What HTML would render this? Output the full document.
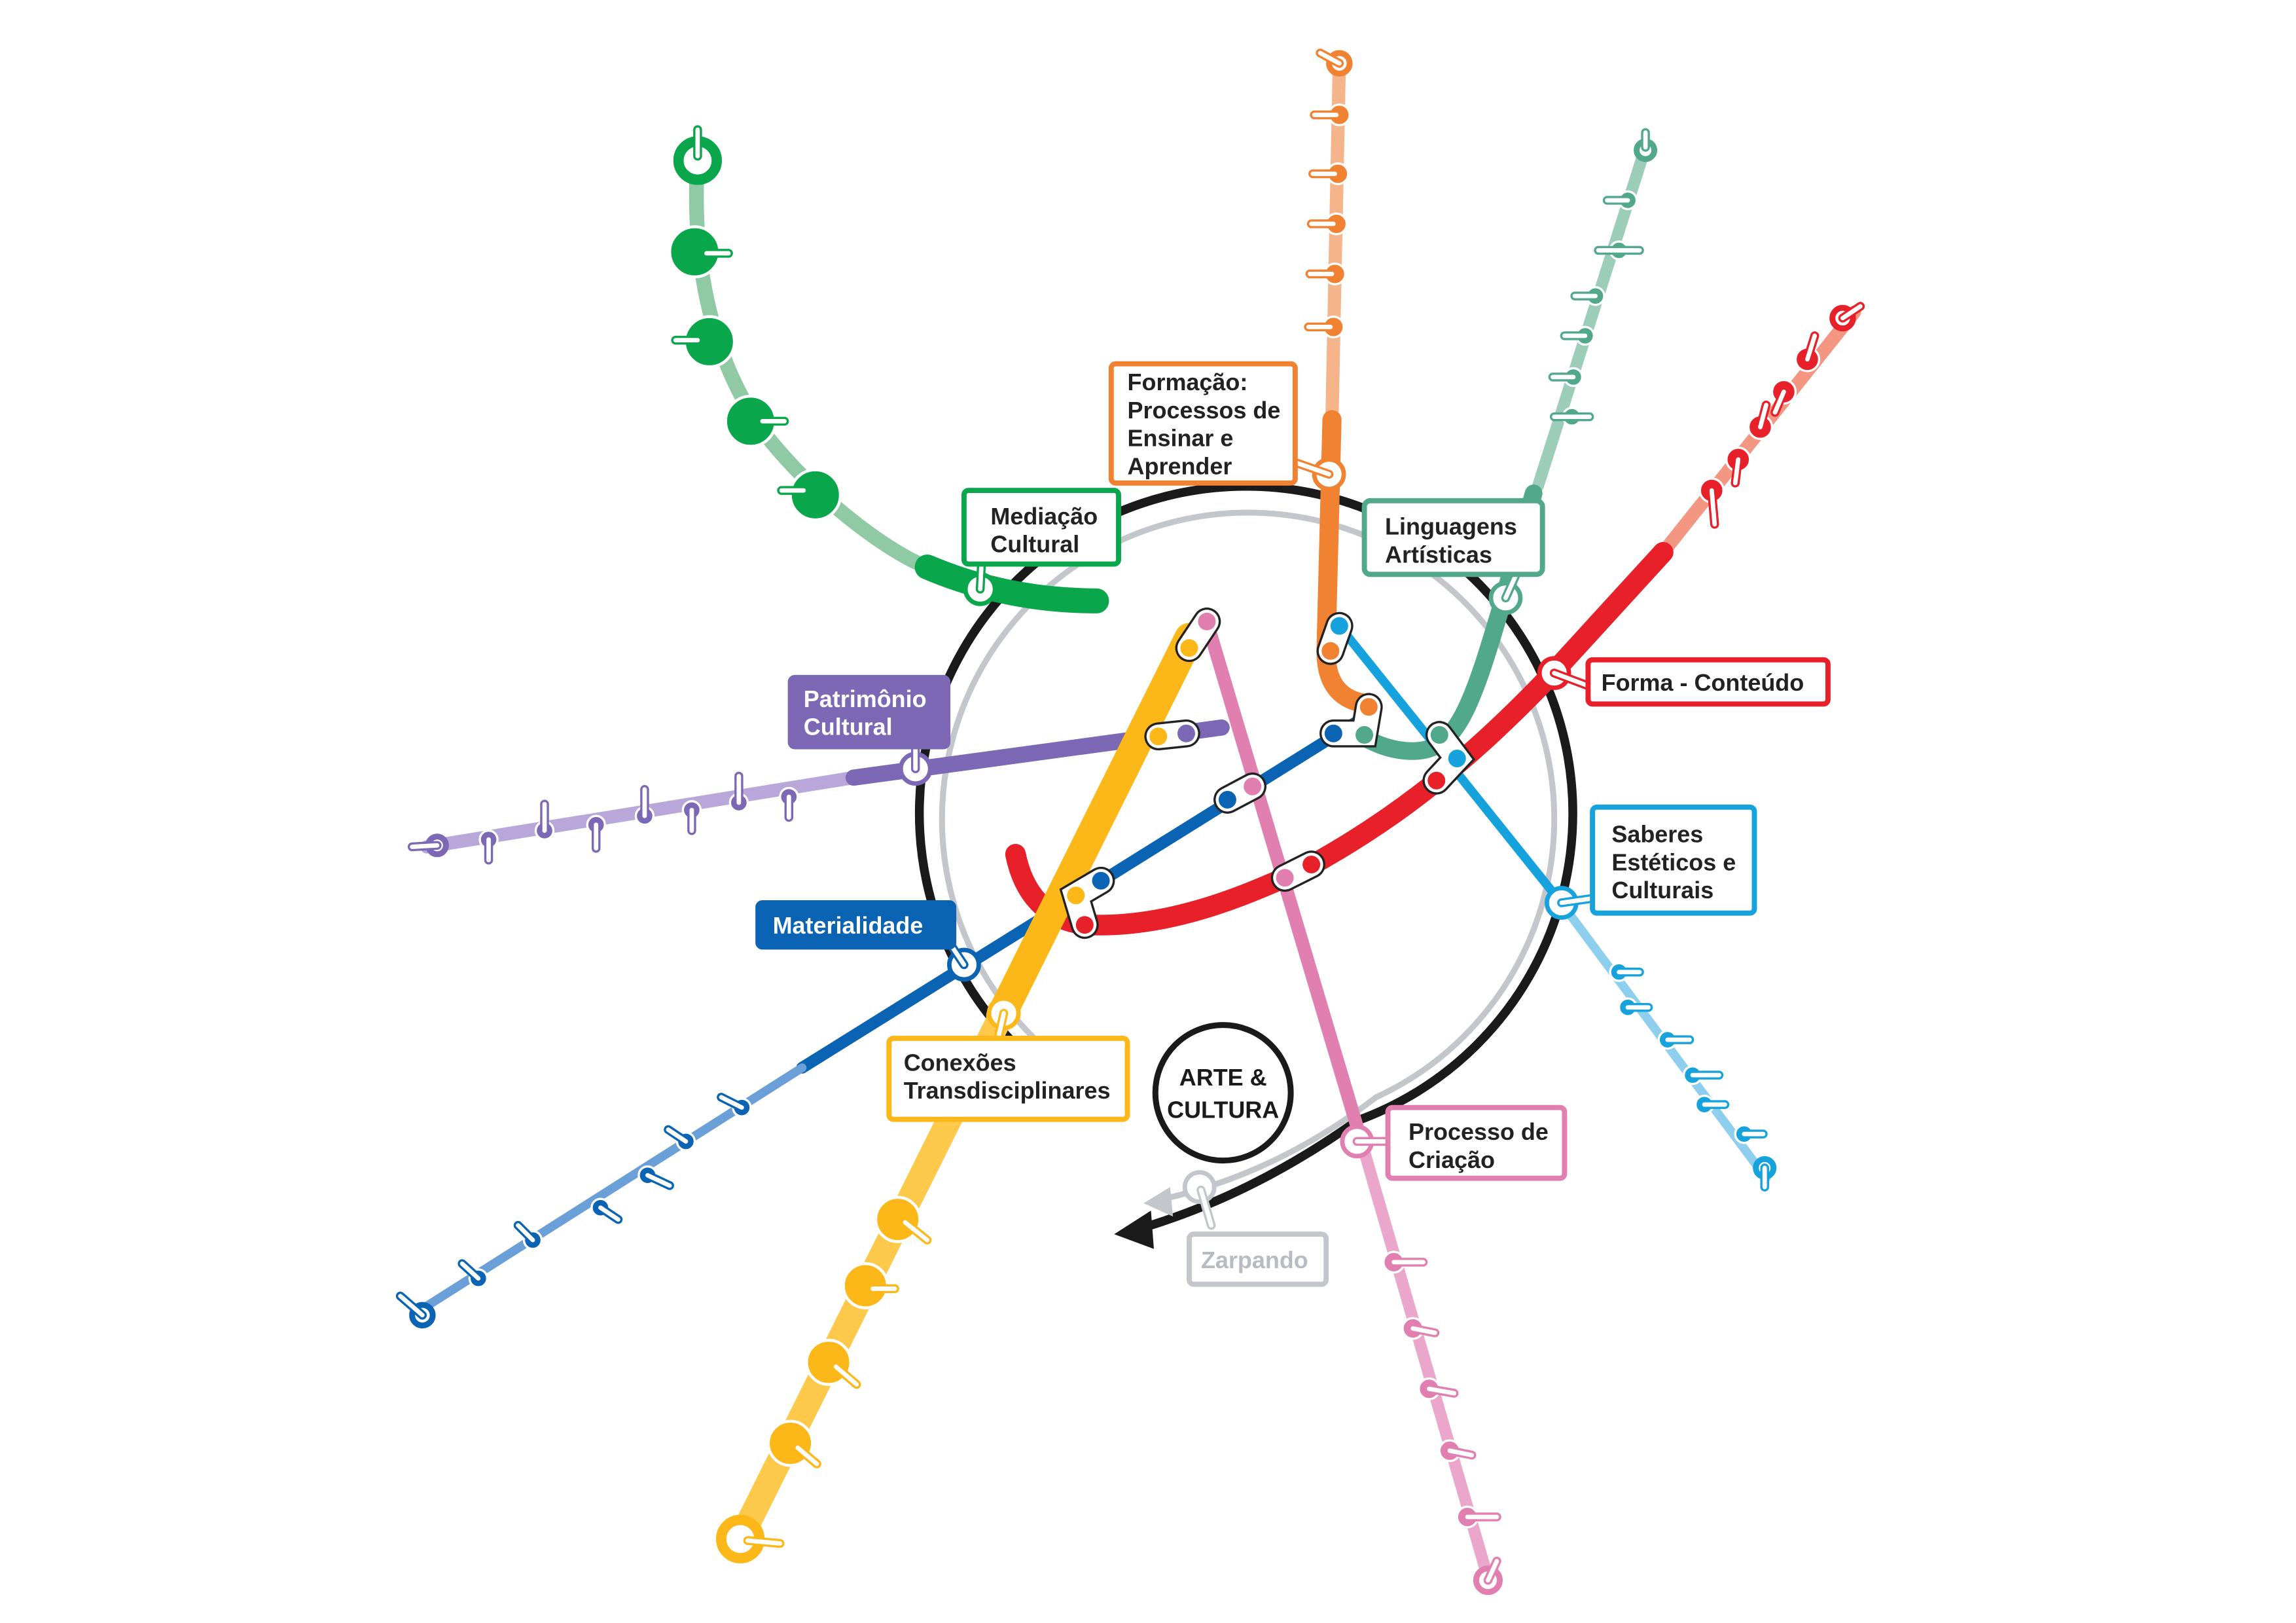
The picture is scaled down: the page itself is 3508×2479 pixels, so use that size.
<!DOCTYPE html>
<html><head><meta charset="utf-8"><style>
html,body{margin:0;padding:0;background:#fff;}
svg{display:block;}
text{font-family:"Liberation Sans",sans-serif;font-weight:bold;font-size:16px;}
</style></head><body>
<svg width="3508" height="2479" viewBox="0 0 1560 1102" preserveAspectRatio="none" xmlns="http://www.w3.org/2000/svg">
<rect width="1560" height="1102" fill="#fff"/>
<g fill="none" stroke-linecap="round">
<!-- rings -->
<path d="M 752,753 A 222 222 0 1 1 922,761 Q 850,812 775,834" stroke="#1a1a1a" stroke-width="6"/>
<path d="M 742,735 A 208 208 0 1 1 935,745 Q 870,795 795,813" stroke="#c3c6cb" stroke-width="4"/>
</g>
<polygon points="757,838 782,822 784,848" fill="#1a1a1a"/>
<polygon points="777,817 795,806 797,826" fill="#c3c6cb"/>
<circle cx="815" cy="806" r="10" fill="#fff" stroke="#c3c6cb" stroke-width="3"/>
<line x1="816" y1="808" x2="823" y2="832" stroke="#c3c6cb" stroke-width="6" stroke-linecap="round"/>
<line x1="816" y1="808" x2="823" y2="832" stroke="#fff" stroke-width="3" stroke-linecap="round"/>

<g fill="none" stroke-linecap="round" stroke-linejoin="round">
<!-- green -->
<path d="M474,108 C470,170 480,240 520,295 C560,345 610,378 630,385" stroke="#8fcaa4" stroke-width="10"/>
<path d="M630,385 C670,402 710,408 745,408" stroke="#0aa64c" stroke-width="17"/>
<!-- orange -->
<path d="M910,42 L905,285" stroke="#f6b48b" stroke-width="9"/>
<path d="M905,285 L901,440 Q900,475 930,478" stroke="#f08232" stroke-width="13"/>
<!-- teal -->
<path d="M1118,100 L1045,330" stroke="#9ccdb9" stroke-width="8"/>
<path d="M1042,335 L1022,405 C1000,480 990,510 960,510 C945,510 935,505 925,500" stroke="#52a88b" stroke-width="12"/>
<!-- light blue -->
<path d="M910,425 L1060,612" stroke="#16a2dc" stroke-width="6"/>
<path d="M1060,612 L1200,800" stroke="#8ecfee" stroke-width="6"/>
<!-- blue -->
<path d="M545,725 L930,485" stroke="#0b63b3" stroke-width="8"/>
<path d="M285,890 L545,725" stroke="#6a9fd8" stroke-width="6"/>
<!-- purple -->
<path d="M290,575 L580,528" stroke="#b8a7d8" stroke-width="9"/>
<path d="M580,528 L830,494" stroke="#7c68b4" stroke-width="11"/>
<!-- pink -->
<path d="M820,422 L925,775" stroke="#e07fb0" stroke-width="9"/>
<path d="M925,775 L1012,1075" stroke="#eba7cb" stroke-width="8"/>
<!-- red -->
<path d="M1260,212 L1130,375" stroke="#f49782" stroke-width="9"/>
<path d="M1130,375 L1055,457 C1000,515 950,555 890,588 C840,612 790,630 740,628 C710,626 695,605 690,580" stroke="#e8202a" stroke-width="14"/>
<!-- yellow -->
<path d="M808,433 L680,690" stroke="#fbb818" stroke-width="20"/>
<path d="M680,690 L503,1045" stroke="#fcc94a" stroke-width="17"/>
</g>

<!-- green stations -->
<g>
<circle cx="474" cy="109" r="13" fill="#fff" stroke="#0aa64c" stroke-width="7"/>
<line x1="474" y1="88" x2="474" y2="106" stroke="#0aa64c" stroke-width="6" stroke-linecap="round"/><line x1="474" y1="88" x2="474" y2="106" stroke="#fff" stroke-width="3" stroke-linecap="round"/>
<circle cx="472" cy="171" r="17" fill="#0aa64c" stroke="#fff" stroke-width="2"/>
<line x1="480" y1="172" x2="495" y2="172" stroke="#0aa64c" stroke-width="6" stroke-linecap="round"/><line x1="480" y1="172" x2="495" y2="172" stroke="#fff" stroke-width="3" stroke-linecap="round"/>
<circle cx="482" cy="232" r="17" fill="#0aa64c" stroke="#fff" stroke-width="2"/>
<line x1="459" y1="231" x2="474" y2="231" stroke="#0aa64c" stroke-width="6" stroke-linecap="round"/><line x1="459" y1="231" x2="474" y2="231" stroke="#fff" stroke-width="3" stroke-linecap="round"/>
<circle cx="510" cy="286" r="17" fill="#0aa64c" stroke="#fff" stroke-width="2"/>
<line x1="518" y1="286" x2="533" y2="286" stroke="#0aa64c" stroke-width="6" stroke-linecap="round"/><line x1="518" y1="286" x2="533" y2="286" stroke="#fff" stroke-width="3" stroke-linecap="round"/>
<circle cx="554" cy="336" r="17" fill="#0aa64c" stroke="#fff" stroke-width="2"/>
<line x1="531" y1="333" x2="546" y2="333" stroke="#0aa64c" stroke-width="6" stroke-linecap="round"/><line x1="531" y1="333" x2="546" y2="333" stroke="#fff" stroke-width="3" stroke-linecap="round"/>
</g>

<!-- small stations: generic -->
<g stroke-linecap="round">
<!-- orange -->
<g stroke="#f08232">
<circle cx="910" cy="43" r="7" fill="#fff" stroke-width="4"/>
<circle cx="910" cy="78" r="7" fill="#f08232" stroke="#fff" stroke-width="1.5"/>
<circle cx="909" cy="118" r="7" fill="#f08232" stroke="#fff" stroke-width="1.5"/>
<circle cx="908" cy="152" r="7" fill="#f08232" stroke="#fff" stroke-width="1.5"/>
<circle cx="907" cy="186" r="7" fill="#f08232" stroke="#fff" stroke-width="1.5"/>
<circle cx="906" cy="222" r="7" fill="#f08232" stroke="#fff" stroke-width="1.5"/>
<path d="M897,36 L910,43 M893,78 L908,78 M892,118 L907,118 M891,152 L906,152 M890,186 L905,186 M889,222 L904,222" stroke-width="6"/>
<path d="M897,36 L910,43 M893,78 L908,78 M892,118 L907,118 M891,152 L906,152 M890,186 L905,186 M889,222 L904,222" stroke="#fff" stroke-width="3"/>
</g>
<!-- teal -->
<g stroke="#52a88b">
<circle cx="1118" cy="102" r="6" fill="#fff" stroke-width="4"/>
<circle cx="1106" cy="136" r="6" fill="#52a88b" stroke="#fff" stroke-width="1.5"/>
<circle cx="1100" cy="170" r="6" fill="#52a88b" stroke="#fff" stroke-width="1.5"/>
<circle cx="1084" cy="201" r="6" fill="#52a88b" stroke="#fff" stroke-width="1.5"/>
<circle cx="1077" cy="228" r="6" fill="#52a88b" stroke="#fff" stroke-width="1.5"/>
<circle cx="1069" cy="256" r="6" fill="#52a88b" stroke="#fff" stroke-width="1.5"/>
<circle cx="1068" cy="283" r="6" fill="#52a88b" stroke="#fff" stroke-width="1.5"/>
<path d="M1118,90 L1118,100 M1092,136 L1106,136 M1086,170 L1114,170 M1070,201 L1084,201 M1063,228 L1077,228 M1055,256 L1069,256 M1056,283 L1080,283" stroke-width="6"/>
<path d="M1118,90 L1118,100 M1092,136 L1106,136 M1086,170 L1114,170 M1070,201 L1084,201 M1063,228 L1077,228 M1055,256 L1069,256 M1056,283 L1080,283" stroke="#fff" stroke-width="3"/>
</g>
<!-- red -->
<g stroke="#e8202a">
<circle cx="1252" cy="216" r="7" fill="#fff" stroke-width="4"/>
<circle cx="1228" cy="244" r="8" fill="#e8202a" stroke="#fff" stroke-width="1.5"/>
<circle cx="1212" cy="266" r="8" fill="#e8202a" stroke="#fff" stroke-width="1.5"/>
<circle cx="1196" cy="290" r="8" fill="#e8202a" stroke="#fff" stroke-width="1.5"/>
<circle cx="1181" cy="312" r="8" fill="#e8202a" stroke="#fff" stroke-width="1.5"/>
<circle cx="1163" cy="333" r="8" fill="#e8202a" stroke="#fff" stroke-width="1.5"/>
<path d="M1252,216 L1264,208 M1228,244 L1233,228 M1212,266 L1206,280 M1196,290 L1200,275 M1181,312 L1179,328 M1163,333 L1165,356" stroke-width="6"/>
<path d="M1252,216 L1264,208 M1228,244 L1233,228 M1212,266 L1206,280 M1196,290 L1200,275 M1181,312 L1179,328 M1163,333 L1165,356" stroke="#fff" stroke-width="3"/>
</g>
<!-- light blue -->
<g stroke="#16a2dc">
<circle cx="1100" cy="660" r="6" fill="#16a2dc" stroke="#fff" stroke-width="1.5"/>
<circle cx="1106" cy="684" r="6" fill="#16a2dc" stroke="#fff" stroke-width="1.5"/>
<circle cx="1133" cy="706" r="6" fill="#16a2dc" stroke="#fff" stroke-width="1.5"/>
<circle cx="1150" cy="730" r="6" fill="#16a2dc" stroke="#fff" stroke-width="1.5"/>
<circle cx="1158" cy="750" r="6" fill="#16a2dc" stroke="#fff" stroke-width="1.5"/>
<circle cx="1185" cy="770" r="6" fill="#16a2dc" stroke="#fff" stroke-width="1.5"/>
<circle cx="1199" cy="793" r="6" fill="#fff" stroke-width="4"/>
<path d="M1100,660 L1114,660 M1106,684 L1120,684 M1133,706 L1148,706 M1150,730 L1168,730 M1158,750 L1172,750 M1185,770 L1198,770 M1199,793 L1199,806" stroke-width="6"/>
<path d="M1100,660 L1114,660 M1106,684 L1120,684 M1133,706 L1148,706 M1150,730 L1168,730 M1158,750 L1172,750 M1185,770 L1198,770 M1199,793 L1199,806" stroke="#fff" stroke-width="3"/>
</g>
<!-- pink -->
<g stroke="#e07fb0">
<circle cx="947" cy="857" r="7" fill="#e07fb0" stroke="#fff" stroke-width="1.5"/>
<circle cx="960" cy="902" r="7" fill="#e07fb0" stroke="#fff" stroke-width="1.5"/>
<circle cx="971" cy="943" r="7" fill="#e07fb0" stroke="#fff" stroke-width="1.5"/>
<circle cx="985" cy="985" r="7" fill="#e07fb0" stroke="#fff" stroke-width="1.5"/>
<circle cx="997" cy="1030" r="7" fill="#e07fb0" stroke="#fff" stroke-width="1.5"/>
<circle cx="1011" cy="1073" r="8" fill="#fff" stroke-width="4"/>
<path d="M947,857 L967,857 M960,902 L975,905 M971,943 L988,946 M985,985 L1000,988 M997,1030 L1017,1030 M1011,1073 L1017,1060" stroke-width="6"/>
<path d="M947,857 L967,857 M960,902 L975,905 M971,943 L988,946 M985,985 L1000,988 M997,1030 L1017,1030 M1011,1073 L1017,1060" stroke="#fff" stroke-width="3"/>
</g>
<!-- blue -->
<g stroke="#0b63b3">
<circle cx="504" cy="752" r="6" fill="#0b63b3" stroke="#fff" stroke-width="1.5"/>
<circle cx="466" cy="775" r="6" fill="#0b63b3" stroke="#fff" stroke-width="1.5"/>
<circle cx="440" cy="798" r="6" fill="#0b63b3" stroke="#fff" stroke-width="1.5"/>
<circle cx="408" cy="820" r="6" fill="#0b63b3" stroke="#fff" stroke-width="1.5"/>
<circle cx="362" cy="842" r="6" fill="#0b63b3" stroke="#fff" stroke-width="1.5"/>
<circle cx="325" cy="868" r="6" fill="#0b63b3" stroke="#fff" stroke-width="1.5"/>
<circle cx="287" cy="893" r="7" fill="#fff" stroke-width="4"/>
<path d="M504,752 L490,745 M466,775 L454,767 M440,798 L455,805 M408,820 L420,828 M362,842 L352,832 M325,868 L314,858 M287,893 L272,880" stroke-width="6"/>
<path d="M504,752 L490,745 M466,775 L454,767 M440,798 L455,805 M408,820 L420,828 M362,842 L352,832 M325,868 L314,858 M287,893 L272,880" stroke="#fff" stroke-width="3"/>
</g>
<!-- purple -->
<g stroke="#7c68b4">
<circle cx="536" cy="541" r="6" fill="#7c68b4" stroke="#fff" stroke-width="1.5"/>
<circle cx="502" cy="545" r="6" fill="#7c68b4" stroke="#fff" stroke-width="1.5"/>
<circle cx="470" cy="550" r="6" fill="#7c68b4" stroke="#fff" stroke-width="1.5"/>
<circle cx="438" cy="554" r="6" fill="#7c68b4" stroke="#fff" stroke-width="1.5"/>
<circle cx="405" cy="560" r="6" fill="#7c68b4" stroke="#fff" stroke-width="1.5"/>
<circle cx="370" cy="564" r="6" fill="#7c68b4" stroke="#fff" stroke-width="1.5"/>
<circle cx="332" cy="570" r="6" fill="#7c68b4" stroke="#fff" stroke-width="1.5"/>
<circle cx="297" cy="574" r="6" fill="#fff" stroke-width="4"/>
<path d="M536,541 L536,555 M502,545 L502,527 M470,550 L470,564 M438,554 L438,536 M405,560 L405,576 M370,564 L370,546 M332,570 L332,584 M297,574 L280,575" stroke-width="6"/>
<path d="M536,541 L536,555 M502,545 L502,527 M470,550 L470,564 M438,554 L438,536 M405,560 L405,576 M370,564 L370,546 M332,570 L332,584 M297,574 L280,575" stroke="#fff" stroke-width="3"/>
</g>
</g>

<!-- yellow big stations -->
<g stroke-linecap="round">
<circle cx="610" cy="828" r="15" fill="#fbb818" stroke="#fff" stroke-width="2"/>
<circle cx="588" cy="873" r="15" fill="#fbb818" stroke="#fff" stroke-width="2"/>
<circle cx="563" cy="925" r="15" fill="#fbb818" stroke="#fff" stroke-width="2"/>
<circle cx="537" cy="980" r="15" fill="#fbb818" stroke="#fff" stroke-width="2"/>
<circle cx="503" cy="1045" r="13" fill="#fff" stroke="#fbb818" stroke-width="7"/>
<path d="M615,830 L630,842 M593,875 L608,875 M568,928 L582,940 M542,983 L555,994 M508,1046 L530,1048" stroke="#fbb818" stroke-width="6"/>
<path d="M615,830 L630,842 M593,875 L608,875 M568,928 L582,940 M542,983 L555,994 M508,1046 L530,1048" stroke="#fff" stroke-width="3"/>
</g>

<!-- interchanges -->
<g stroke="#222" stroke-width="1.5">
<path d="M820,422 L808,440" stroke="#222" stroke-width="19" stroke-linecap="round"/>
<path d="M820,422 L808,440" stroke="#fff" stroke-width="16" stroke-linecap="round"/>
<circle cx="820" cy="422" r="6" fill="#e07fb0" stroke="none"/><circle cx="808" cy="440" r="6" fill="#fbb818" stroke="none"/>

<path d="M787,500 L806,498" stroke="#222" stroke-width="19" stroke-linecap="round"/>
<path d="M787,500 L806,498" stroke="#fff" stroke-width="16" stroke-linecap="round"/>
<circle cx="787" cy="500" r="6" fill="#fbb818" stroke="none"/><circle cx="806" cy="498" r="6" fill="#7c68b4" stroke="none"/>

<path d="M910,425 L904,442" stroke="#222" stroke-width="19" stroke-linecap="round"/>
<path d="M910,425 L904,442" stroke="#fff" stroke-width="16" stroke-linecap="round"/>
<circle cx="910" cy="425" r="6" fill="#16a2dc" stroke="none"/><circle cx="904" cy="442" r="6" fill="#f08232" stroke="none"/>

<path d="M906,498 L927,498 L930,480" stroke="#222" stroke-width="19" stroke-linecap="round" fill="none"/>
<path d="M906,498 L927,498 L930,480" stroke="#fff" stroke-width="16" stroke-linecap="round" fill="none"/>
<circle cx="906" cy="498" r="6" fill="#0b63b3" stroke="none"/><circle cx="927" cy="499" r="6" fill="#52a88b" stroke="none"/><circle cx="930" cy="480" r="6" fill="#f08232" stroke="none"/>

<path d="M834,543 L851,534" stroke="#222" stroke-width="19" stroke-linecap="round"/>
<path d="M834,543 L851,534" stroke="#fff" stroke-width="16" stroke-linecap="round"/>
<circle cx="834" cy="543" r="6" fill="#0b63b3" stroke="none"/><circle cx="851" cy="534" r="6" fill="#e07fb0" stroke="none"/>

<path d="M978,499 L990,515 L976,530" stroke="#222" stroke-width="19" stroke-linecap="round" fill="none"/>
<path d="M978,499 L990,515 L976,530" stroke="#fff" stroke-width="16" stroke-linecap="round" fill="none"/>
<circle cx="978" cy="499" r="6" fill="#52a88b" stroke="none"/><circle cx="990" cy="515" r="6" fill="#16a2dc" stroke="none"/><circle cx="976" cy="530" r="6" fill="#e8202a" stroke="none"/>

<path d="M873,596 L891,587" stroke="#222" stroke-width="19" stroke-linecap="round"/>
<path d="M873,596 L891,587" stroke="#fff" stroke-width="16" stroke-linecap="round"/>
<circle cx="873" cy="596" r="6" fill="#e07fb0" stroke="none"/><circle cx="891" cy="587" r="6" fill="#e8202a" stroke="none"/>

<path d="M737,628 L731,608 L748,598" stroke="#222" stroke-width="19" stroke-linecap="round" fill="none"/>
<path d="M737,628 L731,608 L748,598" stroke="#fff" stroke-width="16" stroke-linecap="round" fill="none"/>
<circle cx="737" cy="628" r="6" fill="#e8202a" stroke="none"/><circle cx="731" cy="608" r="6" fill="#fbb818" stroke="none"/><circle cx="748" cy="598" r="6" fill="#0b63b3" stroke="none"/>
</g>

<!-- label stations on ring -->
<g stroke-linecap="round">
<circle cx="666" cy="400" r="10" fill="#fff" stroke="#0aa64c" stroke-width="3"/>
<path d="M666,400 L667,380" stroke="#0aa64c" stroke-width="6"/><path d="M666,400 L667,380" stroke="#fff" stroke-width="3"/>
<circle cx="903" cy="322" r="10" fill="#fff" stroke="#f08232" stroke-width="3"/>
<path d="M903,322 L880,314" stroke="#f08232" stroke-width="6"/><path d="M903,322 L880,314" stroke="#fff" stroke-width="3"/>
<circle cx="1023" cy="406" r="10" fill="#fff" stroke="#52a88b" stroke-width="3"/>
<path d="M1023,406 L1032,386" stroke="#52a88b" stroke-width="6"/><path d="M1023,406 L1032,386" stroke="#fff" stroke-width="3"/>
<circle cx="1056" cy="457" r="10" fill="#fff" stroke="#e8202a" stroke-width="3"/>
<path d="M1056,457 L1080,466" stroke="#e8202a" stroke-width="6"/><path d="M1056,457 L1080,466" stroke="#fff" stroke-width="3"/>
<circle cx="622" cy="522" r="10" fill="#fff" stroke="#7c68b4" stroke-width="3"/>
<path d="M622,522 L622,502" stroke="#7c68b4" stroke-width="6"/><path d="M622,522 L622,502" stroke="#fff" stroke-width="3"/>
<circle cx="1061" cy="613" r="10" fill="#fff" stroke="#16a2dc" stroke-width="3"/>
<path d="M1061,613 L1082,610" stroke="#16a2dc" stroke-width="6"/><path d="M1061,613 L1082,610" stroke="#fff" stroke-width="3"/>
<circle cx="655" cy="655" r="10" fill="#fff" stroke="#0b63b3" stroke-width="3"/>
<path d="M655,655 L645,640" stroke="#0b63b3" stroke-width="6"/><path d="M655,655 L645,640" stroke="#fff" stroke-width="3"/>
<circle cx="682" cy="688" r="10" fill="#fff" stroke="#fbb818" stroke-width="3"/>
<path d="M682,688 L678,706" stroke="#fbb818" stroke-width="6"/><path d="M682,688 L678,706" stroke="#fff" stroke-width="3"/>
<circle cx="922" cy="775" r="10" fill="#fff" stroke="#e07fb0" stroke-width="3"/>
<path d="M922,775 L942,775" stroke="#e07fb0" stroke-width="6"/><path d="M922,775 L942,775" stroke="#fff" stroke-width="3"/>
</g>

<!-- ARTE & CULTURA -->
<circle cx="831" cy="742" r="46" fill="#fff" stroke="#1a1a1a" stroke-width="4"/>
<text x="831" y="737" text-anchor="middle" font-size="17" fill="#1a1a1a">ARTE &amp;</text>
<text x="831" y="759" text-anchor="middle" font-size="17" fill="#1a1a1a">CULTURA</text>

<!-- label boxes -->
<g stroke-width="3.5">
<rect x="755" y="247" width="125" height="81" rx="3" fill="#fff" stroke="#f08232"/>
<rect x="655" y="333" width="105" height="50" rx="3" fill="#fff" stroke="#0aa64c"/>
<rect x="927" y="340" width="121" height="50" rx="4" fill="#fff" stroke="#52a88b"/>
<rect x="1079" y="448" width="163" height="30" rx="3" fill="#fff" stroke="#e8202a"/>
<rect x="537" y="460" width="107" height="47" rx="3" fill="#7c68b4" stroke="#7c68b4"/>
<rect x="1082" y="548" width="110" height="72" rx="3" fill="#fff" stroke="#16a2dc"/>
<rect x="515" y="613" width="133" height="30" rx="3" fill="#0b63b3" stroke="#0b63b3"/>
<rect x="604" y="705" width="162" height="55" rx="3" fill="#fff" stroke="#fbb818"/>
<rect x="943" y="752" width="120" height="48" rx="3" fill="#fff" stroke="#e07fb0"/>
<rect x="808" y="838" width="93" height="34" rx="3" fill="#fff" stroke="#c3c6cb"/>
</g>
<g fill="#222">
<text x="766" y="265">Formação:</text>
<text x="766" y="284">Processos de</text>
<text x="766" y="303">Ensinar e</text>
<text x="766" y="322">Aprender</text>
<text x="673" y="356">Mediação</text>
<text x="673" y="375">Cultural</text>
<text x="941" y="363">Linguagens</text>
<text x="941" y="382">Artísticas</text>
<text x="1088" y="469">Forma - Conteúdo</text>
<text x="546" y="480" fill="#fff">Patrimônio</text>
<text x="546" y="499" fill="#fff">Cultural</text>
<text x="1095" y="572">Saberes</text>
<text x="1095" y="591">Estéticos e</text>
<text x="1095" y="610">Culturais</text>
<text x="525" y="634" fill="#fff">Materialidade</text>
<text x="614" y="727">Conexões</text>
<text x="614" y="746">Transdisciplinares</text>
<text x="957" y="774">Processo de</text>
<text x="957" y="793">Criação</text>
<text x="816" y="861" fill="#b8bcc2">Zarpando</text>
</g>
</svg>
</body></html>
